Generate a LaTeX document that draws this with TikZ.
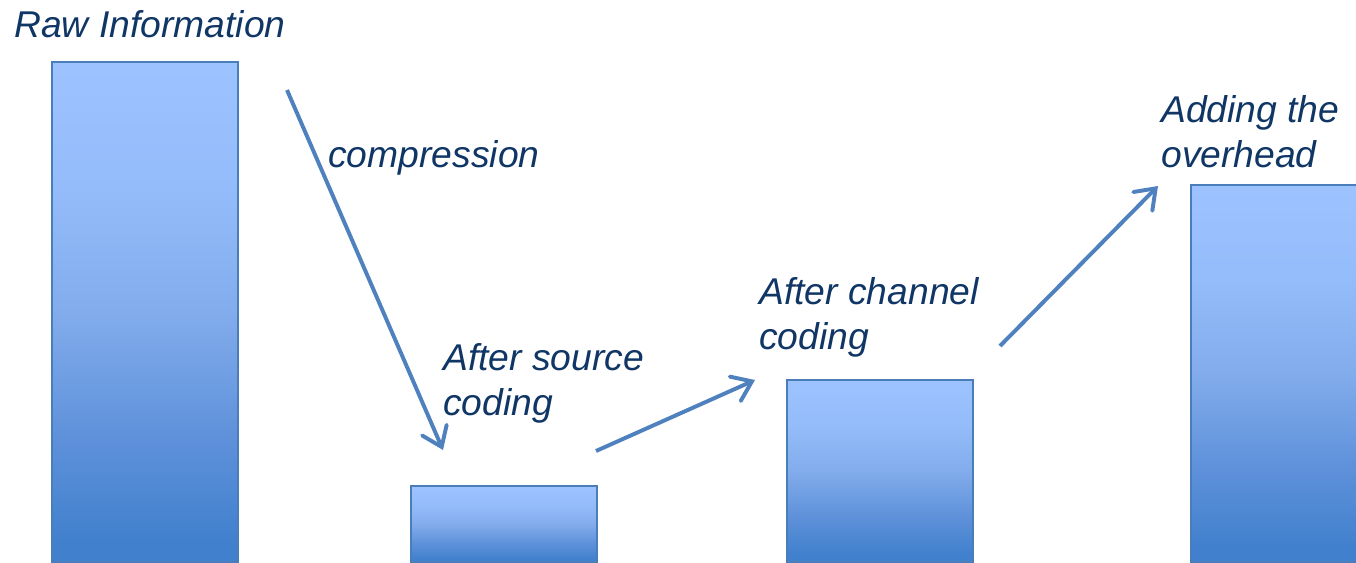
\documentclass[tikz,border=0pt]{standalone}
\usepackage{fontspec}
\setmainfont{Liberation Sans}
\usetikzlibrary{arrows.meta}
\definecolor{barline}{RGB}{74,126,187}
\definecolor{flowblue}{RGB}{79,129,191}
\definecolor{textnavy}{RGB}{16,54,102}
\definecolor{bartop}{RGB}{157,195,255}
\definecolor{barhigh}{RGB}{148,188,250}
\definecolor{barmid}{RGB}{130,172,236}
\definecolor{barlow}{RGB}{94,145,218}
\definecolor{bardark}{RGB}{65,128,205}
\pgfdeclareverticalshading{barshade}{100bp}{color(0bp)=(bardark); color(27bp)=(bardark);
  color(37.5bp)=(barlow); color(50bp)=(barmid); color(62.5bp)=(barhigh);
  color(75bp)=(bartop); color(100bp)=(bartop)}

\begin{document}
\begin{tikzpicture}[x=0.025cm,y=-0.025cm,
  bar/.style={draw=barline,line width=1.1pt,shading=barshade,anchor=south west,
    minimum width=4.65cm,inner sep=0pt},
  notetext/.style={anchor=base west,inner sep=0pt,align=left,text=textnavy,
    font=\fontsize{26.5pt}{32pt}\selectfont\itshape},
  flow/.style={draw=flowblue,line width=2.8pt,
    -{Straight Barb[length=13pt,width=19pt,line cap=round]}}]
\useasboundingbox (0,0) rectangle (1356,562);
% 四个柱（底边落在画面外）
\node[bar,minimum height=12.5cm]   (rawbar)     at (51,563)   {};
\node[bar,minimum height=1.9cm]    (sourcebar)  at (410,563)  {};
\node[bar,minimum height=4.55cm]   (channelbar) at (786,563)  {};
\node[bar,minimum height=9.425cm]  (overbar)    at (1190,563) {};
% 文字（多行时基线取最后一行）
\node[notetext] (rawtext)     at (14,37)   {Raw Information};
\node[notetext] (comptext)    at (328,167) {compression};
\node[notetext] (sourcetext)  at (443,415) {After source\\coding};
\node[notetext] (channeltext) at (759,349) {After channel\\coding};
\node[notetext] (overtext)    at (1161,167) {Adding the\\overhead};
% 箭头
\coordinate (compstart) at (287,90);
\coordinate (compend)   at (443,450);
\coordinate (chanstart) at (596,451);
\coordinate (chanend)   at (755,380);
\coordinate (overstart) at (1000,346);
\coordinate (overend)   at (1158,186);
\draw[flow] (compstart) -- (compend);
\draw[flow] (chanstart) -- (chanend);
\draw[flow] (overstart) -- (overend);
\end{tikzpicture}
\end{document}
